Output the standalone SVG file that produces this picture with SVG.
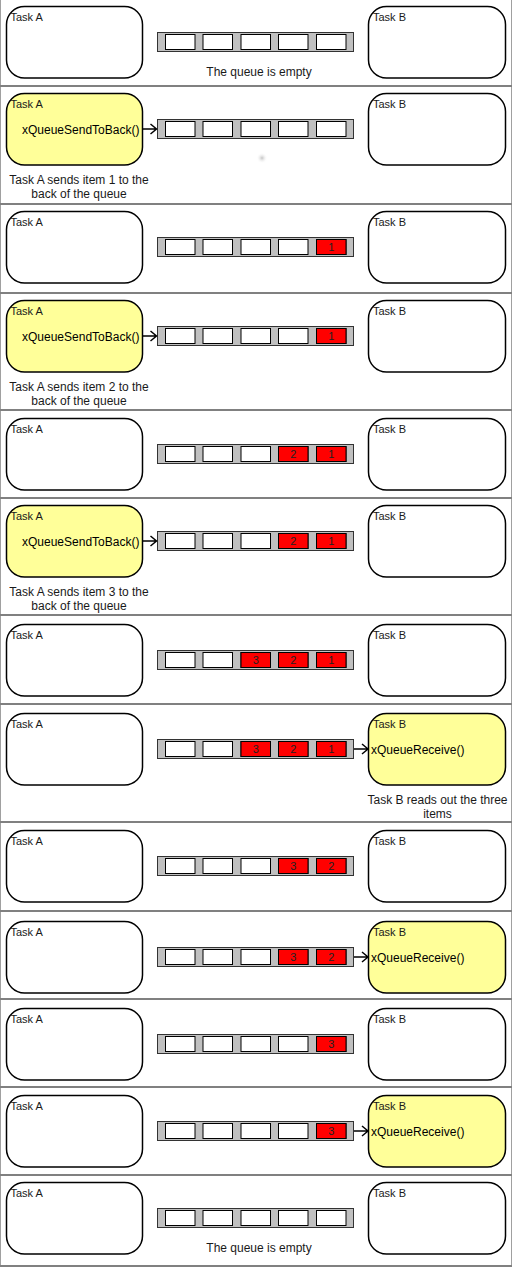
<svg xmlns="http://www.w3.org/2000/svg" width="512" height="1272" viewBox="0 0 512 1272">
<defs>
<style>
.bg{fill:#fff}
.sep{stroke:#808080;stroke-width:2;fill:none}
.side{stroke:#a0a0a0;stroke-width:1;fill:none}
.task{fill:#fff;stroke:#000;stroke-width:1.5}
.active{fill:#ffff99;stroke:#000;stroke-width:1.5}
.queue{fill:#c0c0c0;stroke:#333;stroke-width:1}
.cell{fill:#fff;stroke:#000;stroke-width:1}
.full{fill:#ff0000;stroke:#000;stroke-width:1}
.lbl{font-family:"Liberation Sans",Arial,sans-serif;font-size:11px;fill:#1a1a1a}
.fn{font-family:"Liberation Sans",Arial,sans-serif;font-size:12px;fill:#000}
.cap{font-family:"Liberation Sans",Arial,sans-serif;font-size:12px;fill:#1a1a1a;text-anchor:middle}
.num{font-family:"Liberation Sans",Arial,sans-serif;font-size:11px;fill:#222;text-anchor:middle}
.arr{stroke:#000;stroke-width:1.5;fill:none}
</style>
<radialGradient id="smudge">
<stop offset="0" stop-color="#c4c4c4"/>
<stop offset="1" stop-color="#ffffff" stop-opacity="0"/>
</radialGradient>
<g id="tplQueue">
<rect class="queue" x="157.5" y="32.5" width="196" height="19"/>
<rect class="cell" x="165.5" y="34.5" width="29.5" height="15"/>
<rect class="cell" x="203" y="34.5" width="29.5" height="15"/>
<rect class="cell" x="241" y="34.5" width="29.5" height="15"/>
<rect class="cell" x="278.5" y="34.5" width="29.5" height="15"/>
<rect class="cell" x="316.5" y="34.5" width="29.5" height="15"/>
</g>
</defs>
<rect class="bg" x="0" y="0" width="512" height="1272"/>

<g id="frames">
<line class="side" x1="0.5" y1="0" x2="0.5" y2="1266"/>
<line class="side" x1="511.5" y1="0" x2="511.5" y2="1266"/>
<line class="sep" x1="0" y1="86" x2="512" y2="86"/>
<line class="sep" x1="0" y1="204" x2="512" y2="204"/>
<line class="sep" x1="0" y1="293" x2="512" y2="293"/>
<line class="sep" x1="0" y1="410" x2="512" y2="410"/>
<line class="sep" x1="0" y1="498" x2="512" y2="498"/>
<line class="sep" x1="0" y1="615" x2="512" y2="615"/>
<line class="sep" x1="0" y1="704" x2="512" y2="704"/>
<line class="sep" x1="0" y1="822" x2="512" y2="822"/>
<line class="sep" x1="0" y1="911" x2="512" y2="911"/>
<line class="sep" x1="0" y1="999" x2="512" y2="999"/>
<line class="sep" x1="0" y1="1087" x2="512" y2="1087"/>
<line class="sep" x1="0" y1="1175" x2="512" y2="1175"/>
<line class="sep" x1="0" y1="1266" x2="512" y2="1266"/>
</g>

<!-- Panel 1 -->
<g id="p1">
<g id="p1-taskA"><rect class="task" x="6.5" y="6.5" width="136" height="71.5" rx="18"/><text class="lbl" x="10.5" y="20.5">Task A</text></g>
<g id="p1-queue"><use href="#tplQueue"/><text class="cap" x="259" y="76">The queue is empty</text></g>
<g id="p1-taskB"><rect class="task" x="368.5" y="6.5" width="137" height="71.5" rx="18"/><text class="lbl" x="373" y="20.5">Task B</text></g>
</g>

<!-- Panel 2 -->
<g id="p2" transform="translate(0,87)">
<g id="p2-taskA"><rect class="active" x="6.5" y="6.5" width="136" height="71.5" rx="18"/><text class="lbl" x="10.5" y="20.5">Task A</text><text class="fn" x="22" y="46.5">xQueueSendToBack()</text>
<text class="cap" x="79" y="96.5">Task A sends item 1 to the</text><text class="cap" x="79" y="110.5">back of the queue</text></g>
<g id="p2-queue"><use href="#tplQueue"/></g>
<g id="p2-taskB"><rect class="task" x="368.5" y="6.5" width="137" height="71.5" rx="18"/><text class="lbl" x="373" y="20.5">Task B</text></g>
<circle cx="262" cy="71" r="5.5" fill="url(#smudge)"/>
</g>

<!-- Panel 3 -->
<g id="p3" transform="translate(0,205)">
<g id="p3-taskA"><rect class="task" x="6.5" y="6.5" width="136" height="71.5" rx="18"/><text class="lbl" x="10.5" y="20.5">Task A</text></g>
<g id="p3-queue"><use href="#tplQueue"/><rect class="full" x="316.5" y="34.5" width="29.5" height="15"/><text class="num" x="331.25" y="46">1</text></g>
<g id="p3-taskB"><rect class="task" x="368.5" y="6.5" width="137" height="71.5" rx="18"/><text class="lbl" x="373" y="20.5">Task B</text></g>
</g>

<!-- Panel 4 -->
<g id="p4" transform="translate(0,294)">
<g id="p4-taskA"><rect class="active" x="6.5" y="6.5" width="136" height="71.5" rx="18"/><text class="lbl" x="10.5" y="20.5">Task A</text><text class="fn" x="22" y="46.5">xQueueSendToBack()</text>
<text class="cap" x="79" y="96.5">Task A sends item 2 to the</text><text class="cap" x="79" y="110.5">back of the queue</text></g>
<g id="p4-queue"><use href="#tplQueue"/><rect class="full" x="316.5" y="34.5" width="29.5" height="15"/><text class="num" x="331.25" y="46">1</text></g>
<g id="p4-taskB"><rect class="task" x="368.5" y="6.5" width="137" height="71.5" rx="18"/><text class="lbl" x="373" y="20.5">Task B</text></g>
</g>

<!-- Panel 5 -->
<g id="p5" transform="translate(0,412)">
<g id="p5-taskA"><rect class="task" x="6.5" y="6.5" width="136" height="71.5" rx="18"/><text class="lbl" x="10.5" y="20.5">Task A</text></g>
<g id="p5-queue"><use href="#tplQueue"/><rect class="full" x="278.5" y="34.5" width="29.5" height="15"/><text class="num" x="293.25" y="46">2</text><rect class="full" x="316.5" y="34.5" width="29.5" height="15"/><text class="num" x="331.25" y="46">1</text></g>
<g id="p5-taskB"><rect class="task" x="368.5" y="6.5" width="137" height="71.5" rx="18"/><text class="lbl" x="373" y="20.5">Task B</text></g>
</g>

<!-- Panel 6 -->
<g id="p6" transform="translate(0,499)">
<g id="p6-taskA"><rect class="active" x="6.5" y="6.5" width="136" height="71.5" rx="18"/><text class="lbl" x="10.5" y="20.5">Task A</text><text class="fn" x="22" y="46.5">xQueueSendToBack()</text>
<text class="cap" x="79" y="96.5">Task A sends item 3 to the</text><text class="cap" x="79" y="110.5">back of the queue</text></g>
<g id="p6-queue"><use href="#tplQueue"/><rect class="full" x="278.5" y="34.5" width="29.5" height="15"/><text class="num" x="293.25" y="46">2</text><rect class="full" x="316.5" y="34.5" width="29.5" height="15"/><text class="num" x="331.25" y="46">1</text></g>
<g id="p6-taskB"><rect class="task" x="368.5" y="6.5" width="137" height="71.5" rx="18"/><text class="lbl" x="373" y="20.5">Task B</text></g>
</g>

<!-- Panel 7 -->
<g id="p7" transform="translate(0,618)">
<g id="p7-taskA"><rect class="task" x="6.5" y="6.5" width="136" height="71.5" rx="18"/><text class="lbl" x="10.5" y="20.5">Task A</text></g>
<g id="p7-queue"><use href="#tplQueue"/><rect class="full" x="241" y="34.5" width="29.5" height="15"/><text class="num" x="255.75" y="46">3</text><rect class="full" x="278.5" y="34.5" width="29.5" height="15"/><text class="num" x="293.25" y="46">2</text><rect class="full" x="316.5" y="34.5" width="29.5" height="15"/><text class="num" x="331.25" y="46">1</text></g>
<g id="p7-taskB"><rect class="task" x="368.5" y="6.5" width="137" height="71.5" rx="18"/><text class="lbl" x="373" y="20.5">Task B</text></g>
</g>

<!-- Panel 8 -->
<g id="p8" transform="translate(0,707)">
<g id="p8-taskA"><rect class="task" x="6.5" y="6.5" width="136" height="71.5" rx="18"/><text class="lbl" x="10.5" y="20.5">Task A</text></g>
<g id="p8-queue"><use href="#tplQueue"/><rect class="full" x="241" y="34.5" width="29.5" height="15"/><text class="num" x="255.75" y="46">3</text><rect class="full" x="278.5" y="34.5" width="29.5" height="15"/><text class="num" x="293.25" y="46">2</text><rect class="full" x="316.5" y="34.5" width="29.5" height="15"/><text class="num" x="331.25" y="46">1</text></g>
<g id="p8-taskB"><rect class="active" x="368.5" y="6.5" width="137" height="71.5" rx="18"/><text class="lbl" x="373" y="20.5">Task B</text><text class="fn" x="371" y="46.5">xQueueReceive()</text>
<text class="cap" x="437.5" y="96.5">Task B reads out the three</text><text class="cap" x="437.5" y="111">items</text></g>
</g>

<!-- Panel 9 -->
<g id="p9" transform="translate(0,824)">
<g id="p9-taskA"><rect class="task" x="6.5" y="6.5" width="136" height="71.5" rx="18"/><text class="lbl" x="10.5" y="20.5">Task A</text></g>
<g id="p9-queue"><use href="#tplQueue"/><rect class="full" x="278.5" y="34.5" width="29.5" height="15"/><text class="num" x="293.25" y="46">3</text><rect class="full" x="316.5" y="34.5" width="29.5" height="15"/><text class="num" x="331.25" y="46">2</text></g>
<g id="p9-taskB"><rect class="task" x="368.5" y="6.5" width="137" height="71.5" rx="18"/><text class="lbl" x="373" y="20.5">Task B</text></g>
</g>

<!-- Panel 10 -->
<g id="p10" transform="translate(0,915)">
<g id="p10-taskA"><rect class="task" x="6.5" y="6.5" width="136" height="71.5" rx="18"/><text class="lbl" x="10.5" y="20.5">Task A</text></g>
<g id="p10-queue"><use href="#tplQueue"/><rect class="full" x="278.5" y="34.5" width="29.5" height="15"/><text class="num" x="293.25" y="46">3</text><rect class="full" x="316.5" y="34.5" width="29.5" height="15"/><text class="num" x="331.25" y="46">2</text></g>
<g id="p10-taskB"><rect class="active" x="368.5" y="6.5" width="137" height="71.5" rx="18"/><text class="lbl" x="373" y="20.5">Task B</text><text class="fn" x="371" y="46.5">xQueueReceive()</text></g>
</g>

<!-- Panel 11 -->
<g id="p11" transform="translate(0,1002)">
<g id="p11-taskA"><rect class="task" x="6.5" y="6.5" width="136" height="71.5" rx="18"/><text class="lbl" x="10.5" y="20.5">Task A</text></g>
<g id="p11-queue"><use href="#tplQueue"/><rect class="full" x="316.5" y="34.5" width="29.5" height="15"/><text class="num" x="331.25" y="46">3</text></g>
<g id="p11-taskB"><rect class="task" x="368.5" y="6.5" width="137" height="71.5" rx="18"/><text class="lbl" x="373" y="20.5">Task B</text></g>
</g>

<!-- Panel 12 -->
<g id="p12" transform="translate(0,1089)">
<g id="p12-taskA"><rect class="task" x="6.5" y="6.5" width="136" height="71.5" rx="18"/><text class="lbl" x="10.5" y="20.5">Task A</text></g>
<g id="p12-queue"><use href="#tplQueue"/><rect class="full" x="316.5" y="34.5" width="29.5" height="15"/><text class="num" x="331.25" y="46">3</text></g>
<g id="p12-taskB"><rect class="active" x="368.5" y="6.5" width="137" height="71.5" rx="18"/><text class="lbl" x="373" y="20.5">Task B</text><text class="fn" x="371" y="46.5">xQueueReceive()</text></g>
</g>

<!-- Panel 13 -->
<g id="p13" transform="translate(0,1176)">
<g id="p13-taskA"><rect class="task" x="6.5" y="6.5" width="136" height="71.5" rx="18"/><text class="lbl" x="10.5" y="20.5">Task A</text></g>
<g id="p13-queue"><use href="#tplQueue"/><text class="cap" x="259" y="76">The queue is empty</text></g>
<g id="p13-taskB"><rect class="task" x="368.5" y="6.5" width="137" height="71.5" rx="18"/><text class="lbl" x="373" y="20.5">Task B</text></g>
</g>

<g id="connectors">
<g transform="translate(0,87)"><path class="arr" d="M143,42 H156.5 M150.5,37 L156.5,42 L150.5,47"/></g>
<g transform="translate(0,294)"><path class="arr" d="M143,42 H156.5 M150.5,37 L156.5,42 L150.5,47"/></g>
<g transform="translate(0,499)"><path class="arr" d="M143,42 H156.5 M150.5,37 L156.5,42 L150.5,47"/></g>
<g transform="translate(0,707)"><path class="arr" d="M354,42 H368 M362,37 L368,42 L362,47"/></g>
<g transform="translate(0,915)"><path class="arr" d="M354,42 H368 M362,37 L368,42 L362,47"/></g>
<g transform="translate(0,1089)"><path class="arr" d="M354,42 H368 M362,37 L368,42 L362,47"/></g>
</g>
</svg>
